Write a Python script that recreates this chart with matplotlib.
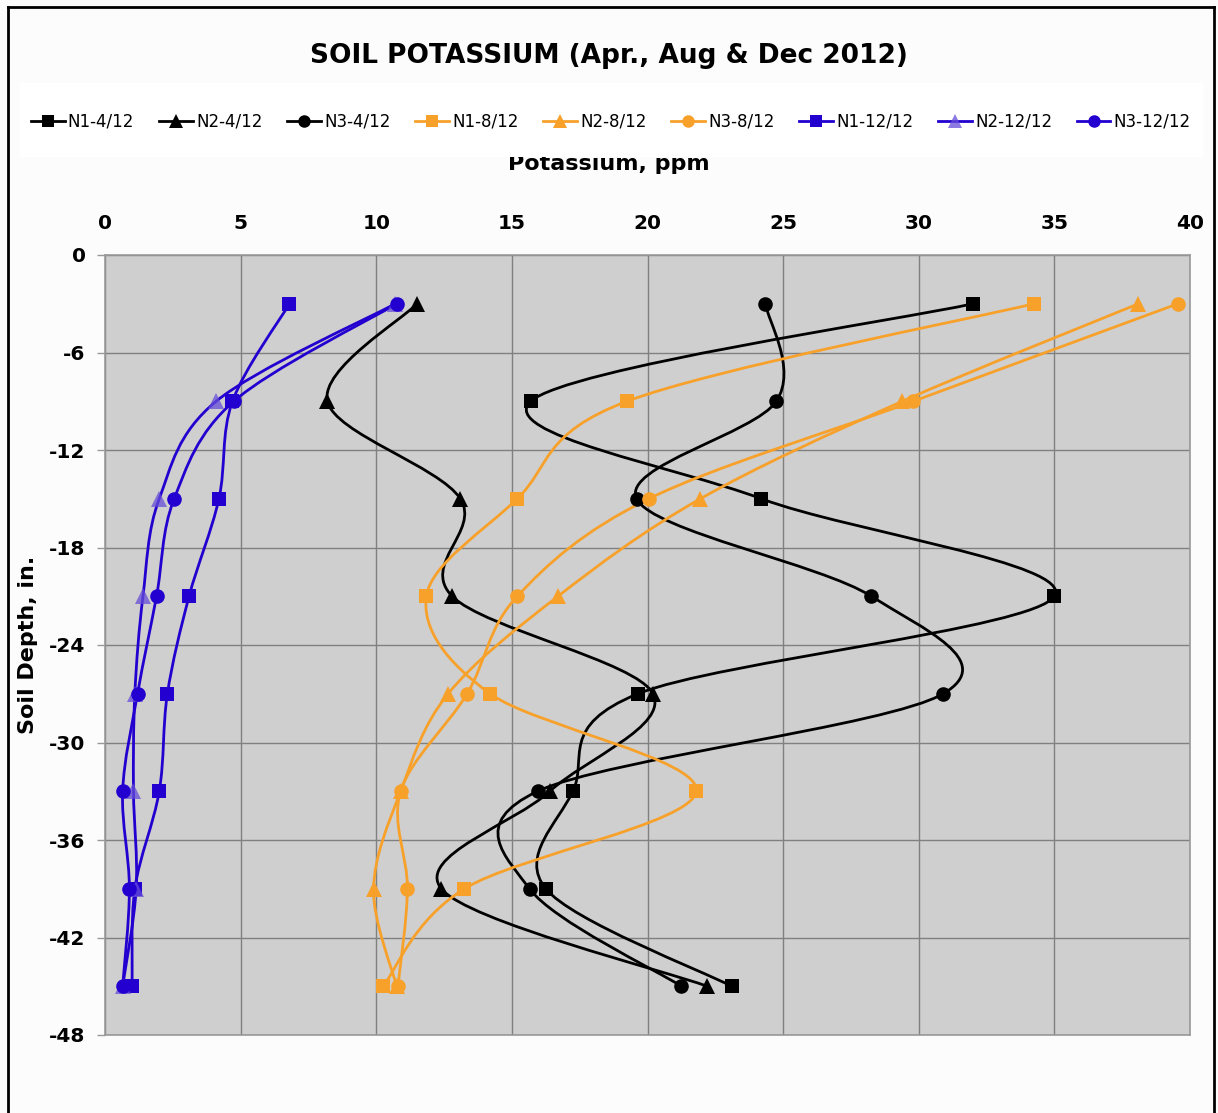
import numpy as np
import matplotlib
matplotlib.use("Agg")
import matplotlib.pyplot as plt
from matplotlib.path import Path
from matplotlib.patches import PathPatch, Rectangle
from matplotlib.lines import Line2D

plt.rcParams["axes.unicode_minus"] = False

# Data
depth = [-3, -9, -15, -21, -27, -33, -39, -45]

n1_apr = [32.0, 15.7, 24.2, 35.0, 19.65, 17.25, 16.25, 23.1]
n2_apr = [11.5, 8.2, 13.1, 12.8, 20.2, 16.4, 12.4, 22.2]
n3_apr = [24.35, 24.75, 19.6, 28.25, 30.9, 15.95, 15.65, 21.25]

n1_aug = [34.25, 19.25, 15.2, 11.85, 14.2, 21.8, 13.25, 10.25]
n2_aug = [38.1, 29.4, 21.95, 16.7, 12.65, 10.9, 9.9, 10.75]
n3_aug = [39.55, 29.8, 20.05, 15.2, 13.35, 10.9, 11.15, 10.8]

n1_dec = [6.8, 4.7, 4.2, 3.1, 2.3, 2.0, 1.1, 1.0]
n2_dec = [10.7, 4.1, 2.0, 1.4, 1.1, 1.05, 1.15, 0.65]
n3_dec = [10.75, 4.75, 2.55, 1.9, 1.2, 0.65, 0.9, 0.65]

labels = ["N1-4/12", "N2-4/12", "N3-4/12", "N1-8/12", "N2-8/12", "N3-8/12",
          "N1-12/12", "N2-12/12", "N3-12/12"]

BLACK = "#000000"
ORANGE = "#F7A12B"
BLUE = "#2300CF"
LBLUE = (0.40, 0.30, 0.85, 0.75)

series = [
    (n1_apr, BLACK, BLACK, "s"),
    (n2_apr, BLACK, BLACK, "^"),
    (n3_apr, BLACK, BLACK, "o"),
    (n1_aug, ORANGE, ORANGE, "s"),
    (n2_aug, ORANGE, ORANGE, "^"),
    (n3_aug, ORANGE, ORANGE, "o"),
    (n1_dec, BLUE, BLUE, "s"),
    (n2_dec, BLUE, LBLUE, "^"),
    (n3_dec, BLUE, BLUE, "o"),
]


def smooth_path(xs, ys):
    # Excel style smoothed line: cubic Bezier through the points
    pts = np.column_stack([xs, ys]).astype(float)
    n = len(pts)
    verts = [pts[0]]
    codes = [Path.MOVETO]
    for i in range(n - 1):
        p0 = pts[i - 1] if i > 0 else pts[i]
        p1 = pts[i]
        p2 = pts[i + 1]
        p3 = pts[i + 2] if i + 2 < n else pts[i + 1]
        verts += [p1 + (p2 - p0) / 6.0, p2 - (p3 - p1) / 6.0, p2]
        codes += [Path.CURVE4] * 3
    return Path(verts, codes)


fig = plt.figure(figsize=(12.18, 11.13), dpi=100, facecolor="#FCFCFC")
ax = fig.add_axes([105 / 1218, 1 - 1035 / 1113, 1085 / 1218, 780 / 1113])
ax.set_facecolor("#CFCFCF")

handles = []
for (vals, lc, mc, mk), lab in zip(series, labels):
    ax.add_patch(PathPatch(smooth_path(vals, depth), fill=False, edgecolor=lc,
                           lw=2.0, zorder=3, capstyle="round"))
    ms = 12 if mk == "^" else 10.5
    ax.plot(vals, depth, ls="none", marker=mk, ms=ms, color=mc,
            markeredgewidth=0, zorder=4)
    handles.append(Line2D([], [], color=lc, lw=2.0, marker=mk, ms=10 if mk == "^" else 9,
                          markerfacecolor=mc, markeredgewidth=0, label=lab))

ax.set_xlim(0, 40)
ax.set_ylim(-48, 0)
ax.set_xticks(range(0, 41, 5))
ax.set_yticks(range(-48, 1, 6))
ax.xaxis.tick_top()
ax.grid(True, color="#808080", lw=1.0)
ax.set_axisbelow(True)
ax.tick_params(axis="x", length=0, pad=15.5, labelsize=14.5)
ax.tick_params(axis="y", length=6, width=1, color="#999999", pad=8, labelsize=14.5)
for lab in ax.get_xticklabels() + ax.get_yticklabels():
    lab.set_fontweight("bold")
for sp in ax.spines.values():
    sp.set_color("#999999")
    sp.set_linewidth(1.2)

ax.set_ylabel("Soil Depth, in.", fontsize=16, fontweight="bold", labelpad=8)

fig.text(0.5, 1 - 56 / 1113, "SOIL POTASSIUM (Apr., Aug & Dec 2012)", ha="center",
         va="center", fontsize=19, fontweight="bold")
fig.text(0.5, 1 - 164 / 1113, "Potassium, ppm", ha="center", va="center",
         fontsize=16, fontweight="bold", zorder=3)

# legend box sits over the top of the axis title
fig.patches.append(Rectangle((20 / 1218, 1 - 157 / 1113), 1183 / 1218, 74 / 1113,
                             transform=fig.transFigure, facecolor="white",
                             edgecolor="none", zorder=4))
fig.legend(handles=handles, loc="center", ncol=9, frameon=False, fontsize=12,
           bbox_to_anchor=(611 / 1218, 1 - 122 / 1113), handlelength=2.0,
           handletextpad=0.2, columnspacing=1.5, borderaxespad=0)

# outer border
for xs, ys in [([8, 8], [1113, 7]), ([8, 1214], [7, 7]), ([1214, 1214], [7, 1113])]:
    fig.add_artist(Line2D([x / 1218 for x in xs], [1 - y / 1113 for y in ys],
                          transform=fig.transFigure, color="black", lw=2.0))

fig.savefig("out.png", dpi=100, facecolor=fig.get_facecolor())
